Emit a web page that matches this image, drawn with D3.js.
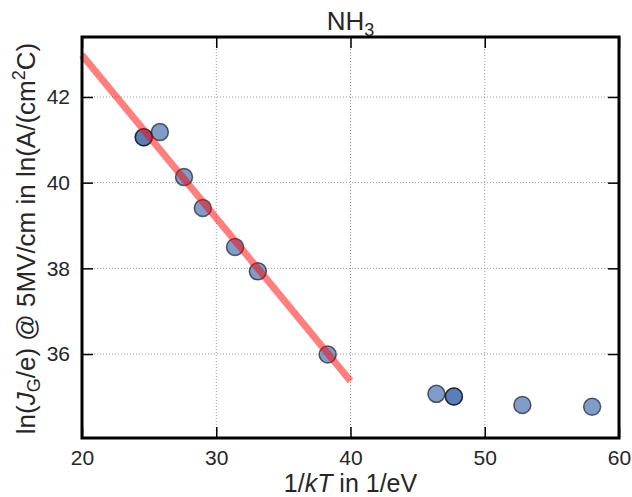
<!DOCTYPE html>
<html>
<head>
<meta charset="utf-8">
<script src="https://cdn.jsdelivr.net/npm/d3@7"></script>
<style>
  html, body { margin: 0; padding: 0; background: #fff; }
  text { font-family: "Liberation Sans", Arial, sans-serif; fill: #262626; }
</style>
</head>
<body>
<svg id="chart" width="632" height="497"></svg>
<script>
// Measured gate current vs. inverse thermal energy
const invKT = [24.6, 24.6, 25.8, 27.6, 29.0, 31.4, 33.1, 38.3, 46.4, 47.7, 47.7, 52.8, 58.0];
const lnJG  = [41.06, 41.06, 41.18, 40.13, 39.41, 38.50, 37.93, 35.99, 35.07, 35.01, 35.01, 34.81, 34.77];

// Linear fit over the low-temperature range
const fitX = [20, 40];
const fitY = [42.98, 35.37];

const xTicks = [20, 30, 40, 50, 60];
const yTicks = [36, 38, 40, 42];

const svg = d3.select("#chart");
const m = { left: 82, right: 13, top: 37, bottom: 59 };
const W = 632, H = 497;

const x = d3.scaleLinear().domain([20, 60]).range([m.left, W - m.right]);
const y = d3.scaleLinear().domain([34.04, 43.4]).range([H - m.bottom, m.top]);

// dotted grid
const grid = svg.append("g");
grid.selectAll("line.gx").data(xTicks.slice(1, -1)).join("line")
  .attr("x1", d => x(d)).attr("x2", d => x(d))
  .attr("y1", m.top).attr("y2", H - m.bottom)
  .attr("stroke", "#999").attr("stroke-width", 1).attr("stroke-dasharray", "1,2");
grid.selectAll("line.gy").data(yTicks).join("line")
  .attr("y1", d => y(d)).attr("y2", d => y(d))
  .attr("x1", m.left).attr("x2", W - m.right)
  .attr("stroke", "#999").attr("stroke-width", 1).attr("stroke-dasharray", "1,2");

// data points
svg.append("g").selectAll("circle").data(invKT.map((v, i) => [v, lnJG[i]])).join("circle")
  .attr("cx", d => x(d[0])).attr("cy", d => y(d[1])).attr("r", 8.5)
  .attr("fill", "#4c72b0").attr("fill-opacity", 0.7)
  .attr("stroke", "#000").attr("stroke-opacity", 0.6).attr("stroke-width", 1.5);

// fit line
svg.append("path")
  .datum(fitX.map((v, i) => [v, fitY[i]]))
  .attr("d", d3.line().x(d => x(d[0])).y(d => y(d[1])))
  .attr("fill", "none").attr("stroke", "#ff0000").attr("stroke-opacity", 0.5)
  .attr("stroke-width", 7);

// axes with inward ticks on all four sides
const tl = 11;
const axB = svg.append("g").attr("transform", `translate(0,${H - m.bottom})`)
  .call(d3.axisBottom(x).tickValues(xTicks).tickSizeInner(-tl).tickSizeOuter(0));
const axT = svg.append("g").attr("transform", `translate(0,${m.top})`)
  .call(d3.axisTop(x).tickValues(xTicks).tickSizeInner(-tl).tickSizeOuter(0).tickFormat(""));
const axL = svg.append("g").attr("transform", `translate(${m.left},0)`)
  .call(d3.axisLeft(y).tickValues(yTicks).tickSizeInner(-tl).tickSizeOuter(0).tickPadding(12));
const axR = svg.append("g").attr("transform", `translate(${W - m.right},0)`)
  .call(d3.axisRight(y).tickValues(yTicks).tickSizeInner(-tl).tickSizeOuter(0).tickFormat(""));

[axB, axT, axL, axR].forEach(a => {
  a.select(".domain").remove();
  a.selectAll(".tick line").attr("stroke", "#000").attr("stroke-width", 1.5);
  a.selectAll(".tick text").attr("font-size", 21).attr("fill", "#262626")
    .attr("font-family", "'Liberation Sans', Arial, sans-serif");
});
// bottom tick labels: baseline just under the frame
axB.selectAll(".tick text").attr("y", 27).attr("dy", 0);

// frame
svg.append("rect")
  .attr("x", m.left).attr("y", m.top)
  .attr("width", W - m.left - m.right).attr("height", H - m.top - m.bottom)
  .attr("fill", "none").attr("stroke", "#000").attr("stroke-width", 3);

// title
const title = svg.append("text").attr("x", x(40)).attr("y", 30)
  .attr("text-anchor", "middle").attr("font-size", 26);
title.append("tspan").text("NH");
title.append("tspan").attr("font-size", 18).attr("dy", 6).text("3");

// x label
const xl = svg.append("text").attr("x", x(40)).attr("y", 492)
  .attr("text-anchor", "middle").attr("font-size", 25);
xl.append("tspan").text("1/");
xl.append("tspan").attr("font-style", "italic").text("kT");
xl.append("tspan").text(" in 1/eV");

// y label
const yl = svg.append("text")
  .attr("transform", `translate(35,${(m.top + H - m.bottom) / 2 + 1}) rotate(-90)`)
  .attr("text-anchor", "middle").attr("font-size", 26);
yl.append("tspan").text("ln(");
yl.append("tspan").attr("font-style", "italic").text("J");
yl.append("tspan").attr("font-size", 18).attr("dy", 5).text("G");
yl.append("tspan").attr("dy", -5).text("/e) @ 5MV/cm in ln(A/(cm");
yl.append("tspan").attr("font-size", 18).attr("dy", -10).text("2");
yl.append("tspan").attr("dy", 10).text("C)");
</script>
</body>
</html>
